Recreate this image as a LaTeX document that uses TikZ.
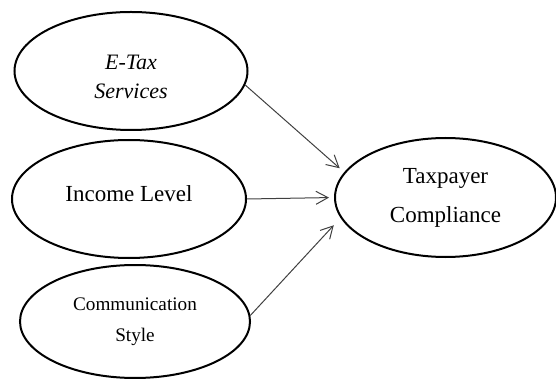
\documentclass[tikz,border=0pt]{standalone}
\usepackage{fontspec}
\setmainfont{Liberation Serif}
\usetikzlibrary{shapes.geometric,arrows.meta}

\begin{document}
\begin{tikzpicture}[x=0.5pt, y=-0.5pt,
  var/.style={draw, ellipse, line width=1pt, inner sep=0pt, align=center,
    font=\fontsize{11.5}{19.5}\selectfont},
  link/.style={-{Straight Barb[length=6pt,width=6.5pt]}, draw=black!75, line width=0.5pt}]
\useasboundingbox (0,0) rectangle (556,379);

\node[var, minimum width=116.5pt, minimum height=59pt, text height=28pt, font=\itshape\fontsize{11}{14.5}\selectfont] at (131,71) (etax) {E-Tax\\Services};
\node[var, minimum width=117pt, minimum height=59pt, text depth=5pt] at (129,199) (income) {Income Level};
\node[var, minimum width=115pt, minimum height=56.5pt, font=\fontsize{9.6}{15.5}\selectfont] at (135,321.5) (comm) {Communication\\Style};
\node[var, minimum width=110.5pt, minimum height=59.5pt] at (445.5,197.5) (tax) {Taxpayer\\Compliance};

\draw[link, shorten >=3pt] (etax.-7) -- (tax.166);
\draw[link, shorten >=2.5pt] (income.east) -- (tax.west);
\draw[link, shorten >=5pt] (comm.3) -- (tax.191);

\end{tikzpicture}
\end{document}
